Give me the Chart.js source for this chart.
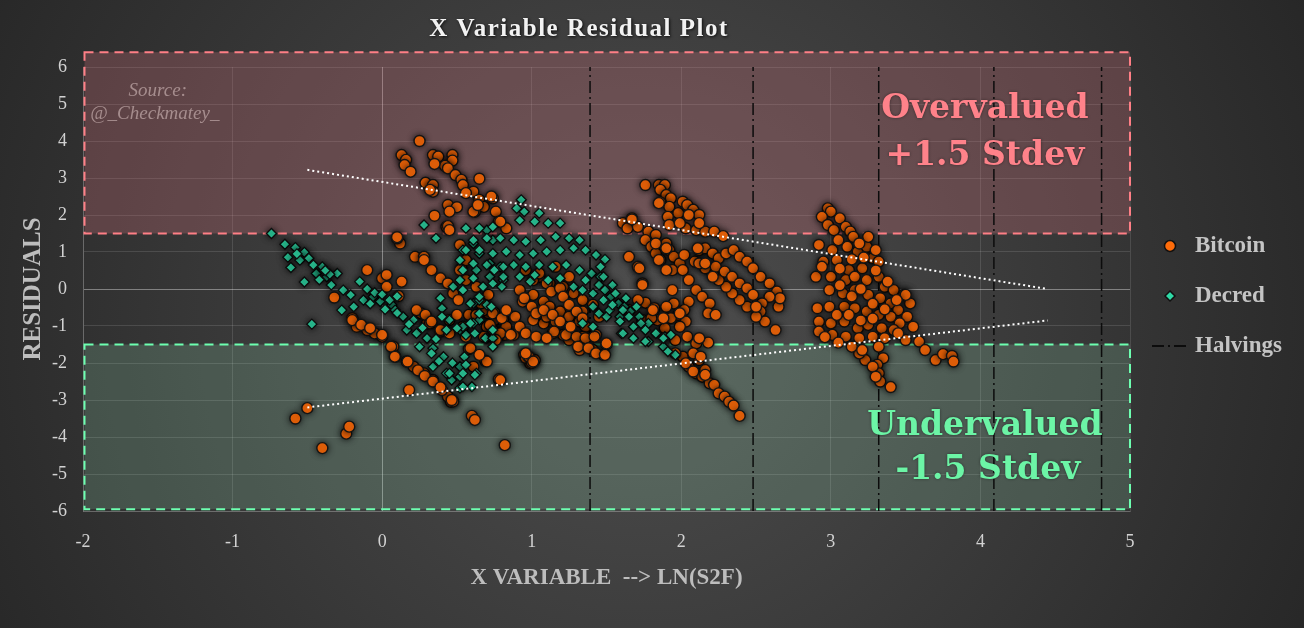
<!DOCTYPE html>
<html>
<head>
<meta charset="utf-8">
<title>X Variable Residual Plot</title>
<script src="https://cdn.jsdelivr.net/npm/chart.js@4.4.1/dist/chart.umd.min.js"></script>
<style>
  html, body { margin: 0; padding: 0; background: #2b2b2b; }
  #wrap { width: 1304px; height: 628px; position: relative; }
</style>
</head>
<body>
<div id="wrap"><canvas id="residualChart"></canvas></div>
<script>
// ---- data ----
const xTickLabels = [-2, -1, 0, 1, 2, 3, 4, 5];
const yTickLabels = [-6, -5, -4, -3, -2, -1, 0, 1, 2, 3, 4, 5, 6];

const halvings = [1.39, 2.48, 3.32, 4.09, 4.81];
const overBand = [1.5, 6.4];
const underBand = [-5.95, -1.5];
const bandX = [-1.99, 5];

const trendUpper = [[-0.5, 3.22], [4.45, 0.0]];
const trendLower = [[-0.5, -3.2], [4.45, -0.85]];

// Bitcoin
const btcLow = [[-0.58,-3.5],[-0.5,-3.22],[-0.4,-4.3],[-0.24,-3.91],[-0.22,-3.72],[0.18,-2.73],[0.6,-3.43],[0.62,-3.54],[0.82,-4.22],[0.78,-2.44],[0.46,-3.05],[0.44,-2.91],[0.475,-3.04],[0.465,-3.0],[0.40,-2.73],[0.34,-2.46],[0.28,-2.28],[0.21,-2.1],[0.165,-1.96],[0.087,-1.83],[0.075,-1.56],[0.0,-1.29],[-0.05,-1.2],[-0.1,-1.11],[-0.17,-1.02],[-0.2,-0.79],[-0.32,-0.23],[0.06,-1.56],[0.085,-1.83],[0.0,-1.24],[-0.2,-0.84],[-0.14,-0.97],[-0.08,-1.06],[0.24,-2.2],[0.285,-2.35],[0.34,-2.5],[0.39,-2.66],[0.17,-1.96],[0.79,-2.46],[0.95,-1.78],[0.99,-2.01],[1.02,-1.92],[0.96,-1.86],[1.0,-1.99],[0.69,-1.94],[0.58,-1.62],[0.26,-0.66],[0.3,-0.93],[0.45,-0.84],[0.58,-0.7],[0.71,-0.66],[0.75,-0.84],[0.82,-1.24],[0.73,-1.2]];
const btcEarly = [[-0.1,0.51],[0.0,0.29],[0.03,0.38],[0.03,0.06],[0.13,0.2],[0.11,-0.19],[0.22,0.87],[0.28,0.87],[0.33,0.51],[0.39,0.29],[0.23,-0.57],[0.29,-0.7],[0.32,-0.93],[0.39,-1.15],[0.12,1.23],[0.1,1.37],[0.43,1.68],[0.52,1.19],[0.53,0.56],[0.56,0.78],[0.71,-0.16],[0.63,-0.7],[0.70,-1.02],[0.74,-1.11],[0.78,-1.24],[0.59,-1.6],[0.70,-1.96],[0.61,-2.1],[0.28,0.78],[0.44,0.15],[0.475,-0.12],[0.51,-0.3],[0.56,0.24],[0.63,0.06],[0.68,-0.57],[0.75,-0.64],[0.81,-0.81],[0.83,-1.02],[0.88,-1.24],[0.79,-1.2],[0.72,-0.97],[0.54,-1.02],[0.50,-0.70],[0.33,-0.88],[0.39,-1.11],[0.45,-1.2],[0.56,-1.29],[0.68,-1.29],[0.76,-1.38],[0.65,-1.78],[0.66,-0.39],[0.74,-0.66],[0.80,-0.79],[0.86,-1.24],[0.89,-0.75],[0.83,-0.57],[0.92,-1.02],[0.96,-1.20],[0.52,0.51]];
const btcTop = [[0.25,4.0],[0.13,3.62],[0.16,3.49],[0.15,3.35],[0.19,3.17],[0.34,3.62],[0.375,3.58],[0.47,3.62],[0.47,3.47],[0.42,3.33],[0.44,3.26],[0.35,3.38],[0.49,3.08],[0.53,2.95],[0.54,2.81],[0.65,2.98],[0.29,2.87],[0.34,2.81],[0.34,2.63],[0.32,2.68],[0.61,2.63],[0.56,2.59],[0.65,2.41],[0.68,2.22],[0.62,2.09],[0.44,2.27],[0.50,2.21],[0.45,2.09],[0.35,1.98],[0.44,1.70],[0.45,1.59],[0.74,2.45],[0.76,2.09],[0.78,1.82],[0.83,1.64],[0.10,1.40],[0.61,2.09],[0.64,2.27],[0.73,2.50],[0.79,1.82]];
const btcMid = [[0.92,-0.03],[0.94,-0.34],[1.01,-0.16],[1.08,-0.34],[1.12,-0.48],[1.19,-0.61],[1.25,-0.75],[1.32,-0.88],[1.36,-1.02],[1.43,-1.24],[1.50,-1.49],[1.41,-1.65],[1.48,-1.78],[1.32,-1.65],[1.25,-1.38],[1.21,-1.24],[1.14,-1.20],[1.08,-0.93],[1.01,-0.84],[1.10,-0.75],[1.16,-0.88],[1.16,0.6],[1.05,0.33],[1.12,0.15],[1.21,0.06],[1.28,-0.12],[1.34,-0.30],[1.41,-0.43],[1.34,-0.61],[1.45,-0.75],[1.25,-1.2],[1.34,-1.29],[0.95,-0.25],[1.0,-0.48],[1.03,-0.66],[1.15,-1.15],[1.23,-1.24],[1.30,-1.29],[1.36,-1.33],[1.42,-1.29],[1.31,-1.56],[1.38,-1.60],[1.43,-1.74],[1.49,-1.78],[0.98,-1.83],[1.01,-1.96],[0.96,0.51],[1.01,0.24],[1.05,0.42],[1.10,0.15],[1.13,-0.07],[1.19,0.02],[1.21,-0.21],[1.25,-0.43],[1.30,-0.61],[1.34,-0.79],[1.25,0.33],[1.08,-0.57],[1.14,-0.70],[1.19,-0.88],[1.26,-1.02],[1.03,-1.29],[1.10,-1.33],[0.96,-1.74],[1.50,-1.47]];
const btc2013 = [[1.76,2.81],[1.61,1.78],[1.64,1.64],[1.67,1.91],[1.71,1.68],[1.65,0.87],[1.71,0.6],[1.74,0.15],[1.76,-0.37],[1.65,-0.57],[1.71,-0.3],[1.74,-0.84],[1.85,2.81],[1.89,2.81],[1.86,2.68],[1.90,2.54],[1.93,2.45],[1.86,2.34],[1.92,2.22],[1.98,2.05],[2.01,2.36],[2.04,2.27],[2.08,2.14],[2.12,2.0],[1.91,1.95],[1.92,1.73],[2.03,1.64],[1.99,1.78],[2.10,1.59],[2.16,1.55],[2.22,1.55],[2.28,1.43],[1.67,1.88],[1.78,1.55],[1.83,1.46],[1.82,-0.52],[1.76,1.32],[1.80,1.14],[1.83,0.96],[1.86,0.78],[1.90,1.23],[1.92,1.05],[1.95,0.87],[1.99,0.69],[1.94,0.51],[2.01,0.51],[2.05,0.24],[2.02,0.92],[2.09,0.74],[2.12,1.05],[2.16,1.1],[2.21,0.96],[2.25,0.83],[2.30,0.96],[2.35,1.05],[2.39,0.87],[2.44,0.74],[2.48,0.56],[2.53,0.33],[2.59,0.15],[2.64,-0.07],[2.65,-0.48],[2.66,-0.25],[2.59,-0.21],[2.54,-0.39],[2.53,-0.61],[2.56,-0.88],[2.63,-1.11],[2.50,-0.75],[2.44,-0.48],[2.39,-0.3],[2.34,-0.12],[2.30,0.06],[2.25,0.24],[2.21,0.42],[2.16,0.56],[2.12,0.69],[2.23,0.60],[2.29,0.47],[2.34,0.33],[2.39,0.15],[2.44,0.02],[2.48,-0.16],[2.50,-0.48],[2.10,-0.03],[2.14,-0.21],[2.19,-0.39],[2.18,-0.66],[2.23,-0.70],[2.05,-0.34],[2.02,-0.57],[1.98,-0.70],[2.03,-0.88],[1.99,-1.02],[1.95,-0.39],[1.90,-0.48],[1.93,-0.79],[1.89,-1.06],[1.96,-1.38],[2.04,-1.29],[2.10,-1.47],[2.18,-1.45],[2.12,-1.33],[1.84,-0.84],[1.80,-0.79],[2.01,-1.83],[2.05,-2.1],[2.10,-2.28],[2.14,-2.37],[2.19,-2.55],[2.22,-2.59],[2.25,-2.82],[2.29,-2.91],[2.32,-3.05],[2.35,-3.15],[2.39,-3.43],[2.12,-1.92],[2.16,-2.19],[2.08,-1.74],[1.99,-0.66],[1.72,0.56],[1.74,0.11],[1.81,-0.57],[1.88,-0.79],[1.83,1.23],[1.90,1.10],[1.85,0.78],[1.90,0.51],[1.94,-0.03],[1.85,2.32],[2.05,2.0],[2.12,1.78],[1.96,-1.74],[2.03,-2.01],[2.08,-2.23],[2.16,-2.32],[2.13,-1.83],[2.11,1.10],[2.16,0.69],[2.21,0.33]];
const btc2017 = [[2.98,2.18],[3.0,2.09],[2.94,1.95],[2.98,1.73],[3.02,1.59],[3.06,1.91],[3.10,1.68],[3.13,1.55],[3.15,1.41],[2.92,1.19],[3.01,1.05],[3.05,1.32],[3.11,1.14],[3.18,1.01],[3.24,1.14],[3.28,0.83],[3.32,0.74],[2.95,0.74],[3.04,0.78],[3.12,0.51],[3.21,0.56],[2.90,0.33],[3.0,0.33],[3.10,0.24],[3.16,0.33],[3.24,0.24],[3.32,0.33],[3.36,0.06],[3.42,-0.03],[3.49,-0.16],[3.53,-0.39],[2.99,-0.03],[3.08,-0.12],[3.16,-0.03],[3.25,-0.16],[3.33,-0.25],[3.40,-0.39],[3.45,-0.57],[3.51,-0.75],[3.55,-1.02],[2.91,-0.52],[2.99,-0.48],[3.09,-0.48],[3.16,-0.52],[3.24,-0.61],[3.32,-0.70],[3.40,-0.75],[3.46,-0.93],[2.92,-0.88],[3.0,-0.93],[3.09,-0.88],[3.18,-1.06],[3.25,-0.97],[3.34,-1.06],[3.42,-1.11],[2.92,-1.15],[3.01,-1.24],[3.10,-1.29],[3.19,-1.33],[3.28,-1.29],[3.36,-1.33],[3.50,-1.38],[3.59,-1.42],[3.63,-1.65],[3.70,-1.92],[3.75,-1.76],[3.81,-1.81],[3.82,-1.96],[3.32,-1.56],[3.35,-1.87],[3.31,-2.05],[3.32,-2.28],[3.33,-2.50],[3.40,-2.65],[3.23,-1.92],[3.19,-1.74],[3.28,-2.10],[3.30,-2.37],[3.14,-1.56],[3.21,-1.65],[2.94,0.60],[3.25,1.41],[3.19,1.23],[3.30,1.05],[3.50,-0.16],[3.06,0.1],[3.14,-0.2],[3.2,0.0],[3.28,-0.4],[3.36,-0.55],[3.04,-0.7],[3.12,-0.7],[3.2,-0.85],[3.28,-0.8],[3.06,0.55],[3.14,0.8],[3.22,0.85],[3.3,0.5],[3.38,0.2],[3.44,-0.3],[2.96,-1.3],[3.05,-1.45],[3.45,-1.2]];

// Decred
const dcrEarly = [[-0.74,1.5],[-0.65,1.21],[-0.58,1.12],[-0.63,0.86],[-0.61,0.58],[-0.52,0.99],[-0.55,0.78],[-0.49,0.83],[-0.44,0.42],[-0.52,0.19],[-0.47,-0.95],[-0.37,0.33],[-0.30,0.42],[-0.34,0.11],[-0.26,-0.03],[-0.21,-0.16],[-0.15,0.2],[-0.27,-0.57],[-0.19,-0.48],[-0.125,-0.3],[-0.06,-0.21],[-0.013,-0.34],[0.065,-0.43],[0.087,-0.57],[0.14,-0.75],[0.21,-0.84],[0.165,-1.11],[0.23,-1.2],[0.30,-1.33],[0.25,-1.56],[0.34,-1.6],[0.41,-1.83],[0.34,-2.1],[0.43,-2.28],[0.465,-2.46],[0.52,-2.68],[0.6,-2.64],[0.52,-2.1],[0.55,-1.83],[0.40,-0.52],[0.39,-0.25],[0.45,-0.84],[0.52,-1.11],[0.56,-1.24],[0.43,-1.11],[0.475,0.06],[0.52,0.24],[0.63,-2.28],[-0.4,0.6],[-0.35,0.4],[-0.42,0.25],[-0.1,0.0],[-0.05,-0.1],[0.0,-0.15],[0.05,-0.3],[0.1,-0.2],[-0.57,0.95],[-0.46,0.65],[-0.38,0.5],[0.1,-0.65],[0.18,-0.95],[0.27,-1.05],[0.36,-1.35],[0.38,-1.95],[0.47,-2.0],[0.33,-1.74],[0.45,-2.28],[0.52,-2.37],[0.54,-2.64],[-0.08,-0.4],[0.02,-0.55]];
const dcrMid = [[0.54,1.05],[0.61,1.23],[0.65,0.96],[0.72,0.69],[0.63,0.51],[0.74,1.32],[0.70,1.59],[0.28,1.73],[0.36,1.37],[0.61,-0.39],[0.65,-0.84],[0.70,-1.33],[0.93,2.41],[0.90,2.18],[0.95,2.09],[1.05,2.05],[0.92,1.86],[1.02,1.82],[1.11,1.78],[1.19,1.78],[0.74,1.68],[0.65,1.64],[0.56,1.64],[0.61,1.32],[0.70,1.37],[0.79,1.37],[0.88,1.32],[0.96,1.28],[1.06,1.32],[1.16,1.41],[1.25,1.37],[1.32,1.32],[0.56,1.05],[0.65,1.05],[0.74,0.96],[0.83,1.01],[0.92,0.92],[1.01,0.96],[1.10,1.01],[1.19,1.05],[1.28,1.10],[1.36,1.05],[1.43,0.92],[0.52,0.78],[0.61,0.69],[0.70,0.65],[0.79,0.60],[0.88,0.65],[0.96,0.60],[1.05,0.65],[1.14,0.60],[1.23,0.65],[1.32,0.51],[1.40,0.42],[1.46,0.33],[0.61,0.29],[0.72,0.33],[0.81,0.24],[0.92,0.33],[0.99,0.20],[0.80,0.06],[1.28,0.06],[1.34,-0.03],[1.41,-0.12],[1.36,0.24],[1.45,0.11],[1.41,-0.48],[1.45,-0.66],[1.34,-0.93],[1.41,-1.02],[1.50,-0.75],[0.54,0.51],[0.54,-0.03],[0.59,-0.39],[0.65,-0.30],[0.61,-0.93],[0.54,-1.02],[0.62,-1.2],[0.69,-1.33],[0.74,-1.33],[0.74,-1.11],[0.56,-2.05],[0.62,-2.32],[0.54,-2.28],[1.02,0.38],[1.11,0.24],[1.19,0.29],[0.50,-1.06],[0.59,-0.93],[0.65,-0.66],[0.70,-0.43],[0.73,-0.48],[0.65,-0.21],[0.675,0.06],[0.74,0.15],[0.81,0.33],[0.81,0.60],[0.75,0.51],[0.40,-0.75],[0.74,-1.56]];
const dcrLate = [[1.49,0.80],[1.48,0.33],[1.49,-0.03],[1.53,-0.21],[1.58,-0.39],[1.62,-0.48],[1.66,-0.61],[1.72,-0.75],[1.78,-0.93],[1.83,-1.2],[1.89,-1.29],[1.93,-1.24],[1.96,-1.78],[1.88,-1.56],[1.78,-1.42],[1.73,-0.93],[1.68,-1.02],[1.60,-1.2],[1.59,-0.75],[1.52,-0.57],[1.54,0.11],[1.56,-0.12],[1.63,-0.25],[1.70,-0.48],[1.46,0.6],[1.91,-1.69],[1.48,-0.30],[1.54,-0.43],[1.61,-0.57],[1.65,-0.75],[1.76,-1.11],[1.83,-1.20],[1.88,-1.33],[1.59,-0.88],[1.61,-1.20],[1.68,-1.33],[1.76,-1.42]];

const BTC = '#ff6c0a';
const DCR = '#2fd9a6';
const serif = "'Liberation Serif', 'Times New Roman', serif";
const wideSerif = "'DejaVu Serif', serif";

const pts = arr => arr.map(p => ({ x: p[0], y: p[1] }));
const btcData = pts([].concat(btcLow, btcEarly, btcTop, btcMid, btc2013, btc2017));
const dcrData = pts([].concat(dcrEarly, dcrMid, dcrLate));

// vertical halving lines, broken by gaps
const halvingData = [];
halvings.forEach(h => {
    halvingData.push({ x: h, y: -6 }, { x: h, y: 6 }, { x: h, y: null });
});

const isScatter = meta => meta.type === 'scatter';

// ---- plugin: background, bands, labels, title, legend ----
const decor = {
    id: 'decor',
    beforeDraw(chart) {
        const c = chart.ctx;
        const g = c.createRadialGradient(640, 320, 40, 640, 320, 820);
        g.addColorStop(0, '#4c4c4c');
        g.addColorStop(1, '#232323');
        c.save();
        c.fillStyle = g;
        c.fillRect(0, 0, chart.width, chart.height);
        c.restore();
    },
    beforeDatasetsDraw(chart) {
        const c = chart.ctx;
        const xs = chart.scales.x, ys = chart.scales.y;
        const left = xs.getPixelForValue(bandX[0]), right = xs.getPixelForValue(bandX[1]);
        const drawBand = (band, fill, stroke) => {
            const top = ys.getPixelForValue(band[1]), bot = ys.getPixelForValue(band[0]);
            c.save();
            c.fillStyle = fill;
            c.fillRect(left, top, right - left, bot - top);
            c.strokeStyle = stroke;
            c.lineWidth = 2;
            c.setLineDash([9, 6]);
            c.strokeRect(left, top, right - left, bot - top);
            c.restore();
        };
        drawBand(overBand, 'rgba(200,110,120,0.30)', '#ff7f86');
        drawBand(underBand, 'rgba(150,220,180,0.20)', '#6dffb0');
    },
    beforeDatasetDraw(chart, args) {
        if (isScatter(args.meta)) {
            const c = chart.ctx;
            c.save();
            c.shadowColor = 'rgba(0,0,0,0.7)';
            c.shadowBlur = 6;
        }
    },
    afterDatasetDraw(chart, args) {
        if (isScatter(args.meta)) chart.ctx.restore();
    },
    afterDatasetsDraw(chart) {
        const c = chart.ctx;
        const xs = chart.scales.x, ys = chart.scales.y;
        const put = (txt, x, y, font, color) => {
            c.font = font;
            c.fillStyle = color;
            c.fillText(txt, xs.getPixelForValue(x), ys.getPixelForValue(y));
        };
        c.save();
        c.textAlign = 'center';
        c.textBaseline = 'middle';
        c.shadowColor = 'rgba(0,0,0,0.45)';
        c.shadowBlur = 3;
        put('Overvalued', 4.03, 4.85, 'bold 33px ' + wideSerif, '#ff828a');
        put('+1.5 Stdev', 4.03, 3.57, 'bold 33px ' + wideSerif, '#ff828a');
        put('Undervalued', 4.03, -3.72, 'bold 33px ' + wideSerif, '#6cf5a6');
        put('-1.5 Stdev', 4.05, -4.9, 'bold 33px ' + wideSerif, '#6cf5a6');
        c.shadowBlur = 0;
        put('Source:', -1.5, 5.35, 'italic 19px ' + serif, 'rgba(190,165,165,0.75)');
        put('@_Checkmatey_', -1.52, 4.72, 'italic 19px ' + serif, 'rgba(190,165,165,0.75)');
        c.restore();
    },
    afterDraw(chart) {
        const c = chart.ctx;
        c.save();
        // title
        c.font = 'bold 25px ' + serif;
        c.letterSpacing = '1.5px';
        c.fillStyle = '#f2f2f2';
        c.textAlign = 'center';
        c.textBaseline = 'middle';
        c.shadowColor = 'rgba(0,0,0,0.8)';
        c.shadowBlur = 3;
        c.shadowOffsetX = 1;
        c.shadowOffsetY = 1;
        c.fillText('X Variable Residual Plot', 579, 30);
        c.restore();

        // legend
        c.save();
        const lx = 1170, tx = 1195;
        const rows = [246, 296, 346];
        c.font = 'bold 23px ' + serif;
        c.fillStyle = '#c4c4c4';
        c.textAlign = 'left';
        c.textBaseline = 'middle';
        c.fillText('Bitcoin', tx, rows[0]);
        c.fillText('Decred', tx, rows[1]);
        c.fillText('Halvings', tx, rows[2]);
        c.lineWidth = 1.5;
        c.strokeStyle = '#111';
        c.fillStyle = BTC;
        c.beginPath();
        c.arc(lx, rows[0], 5.5, 0, Math.PI * 2);
        c.fill();
        c.stroke();
        c.fillStyle = DCR;
        c.beginPath();
        c.moveTo(lx, rows[1] - 5);
        c.lineTo(lx + 5, rows[1]);
        c.lineTo(lx, rows[1] + 5);
        c.lineTo(lx - 5, rows[1]);
        c.closePath();
        c.fill();
        c.stroke();
        c.strokeStyle = '#0c0c0c';
        c.lineWidth = 2;
        c.setLineDash([12, 4, 2, 4]);
        c.beginPath();
        c.moveTo(1152, rows[2]);
        c.lineTo(1190, rows[2]);
        c.stroke();
        c.restore();
    }
};

const gridColor = ctx => (ctx.tick && ctx.tick.value === 0) ? 'rgba(255,255,255,0.38)' : 'rgba(255,255,255,0.12)';

const ctx = document.getElementById('residualChart').getContext('2d');
const residualChart = new Chart(ctx, {
    type: 'scatter',
    data: {
        datasets: [
            {
                label: 'Trend upper',
                type: 'line',
                data: pts(trendUpper),
                borderColor: '#ffffff',
                borderWidth: 2,
                borderDash: [2, 3],
                pointRadius: 0,
                fill: false,
                order: 1
            },
            {
                label: 'Trend lower',
                type: 'line',
                data: pts(trendLower),
                borderColor: '#ffffff',
                borderWidth: 2,
                borderDash: [2, 3],
                pointRadius: 0,
                fill: false,
                order: 1
            },
            {
                label: 'Decred',
                data: dcrData,
                pointStyle: 'rectRot',
                pointRadius: 5,
                backgroundColor: DCR,
                borderColor: '#0d0d0d',
                borderWidth: 1.3,
                order: 2
            },
            {
                label: 'Bitcoin',
                data: btcData,
                pointStyle: 'circle',
                pointRadius: 5.5,
                backgroundColor: BTC,
                borderColor: '#151515',
                borderWidth: 1.4,
                order: 3
            },
            {
                label: 'Halvings',
                type: 'line',
                data: halvingData,
                borderColor: '#0c0c0c',
                borderWidth: 1.5,
                borderDash: [12, 4, 2, 4],
                pointRadius: 0,
                spanGaps: false,
                fill: false,
                order: 4
            }
        ]
    },
    options: {
        responsive: true,
        maintainAspectRatio: false,
        animation: false,
        layout: {
            padding: { left: 14, right: 174, top: 67, bottom: 36 }
        },
        plugins: {
            legend: { display: false },
            tooltip: { enabled: false }
        },
        scales: {
            x: {
                type: 'linear',
                min: xTickLabels[0],
                max: xTickLabels[xTickLabels.length - 1],
                afterBuildTicks: axis => { axis.ticks = xTickLabels.map(v => ({ value: v })); },
                afterFit: axis => { axis.height = 81; },
                ticks: {
                    color: '#d2d2d2',
                    font: { family: serif, size: 18 },
                    padding: 20
                },
                grid: { color: gridColor, drawTicks: false },
                border: { color: 'rgba(255,255,255,0.18)' },
                title: {
                    display: true,
                    text: 'X VARIABLE  --> LN(S2F)',
                    color: '#bdbdbd',
                    font: { family: serif, size: 23, weight: 'bold' },
                    padding: { top: 0, bottom: 0 }
                }
            },
            y: {
                min: yTickLabels[0],
                max: yTickLabels[yTickLabels.length - 1],
                afterBuildTicks: axis => { axis.ticks = yTickLabels.map(v => ({ value: v })); },
                afterFit: axis => { axis.width = 69; },
                ticks: {
                    color: '#d2d2d2',
                    font: { family: serif, size: 18 },
                    padding: 16
                },
                grid: { color: gridColor, drawTicks: false },
                border: { color: 'rgba(255,255,255,0.18)' },
                title: {
                    display: true,
                    text: 'RESIDUALS',
                    color: '#bdbdbd',
                    font: { family: serif, size: 25, weight: 'bold' },
                    padding: { top: 5, bottom: 0 }
                }
            }
        }
    },
    plugins: [decor]
});
</script>
</body>
</html>
